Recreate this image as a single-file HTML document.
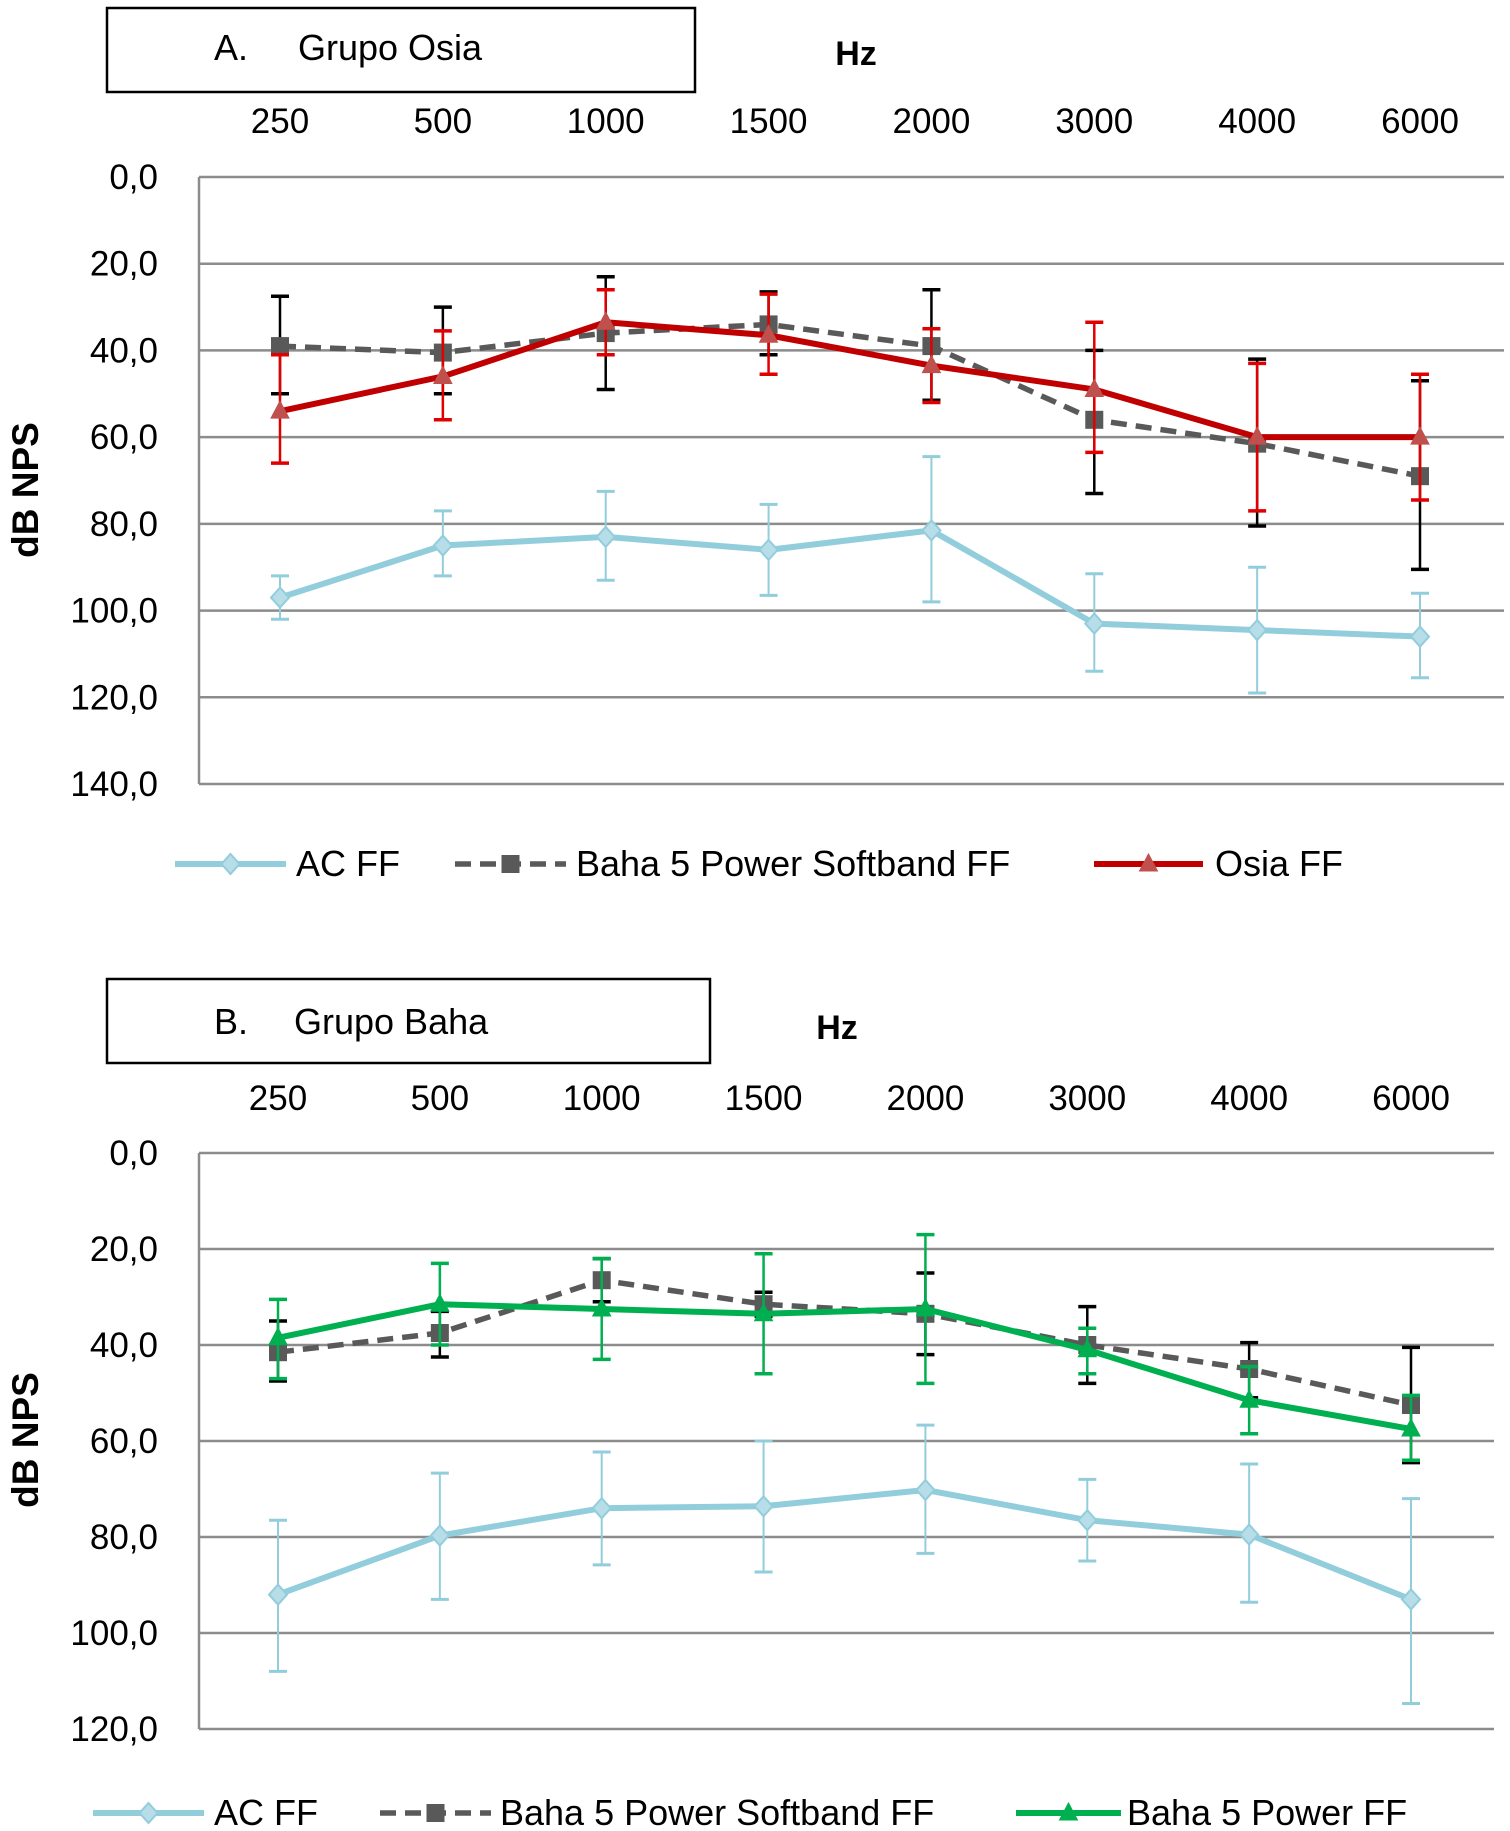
<!DOCTYPE html>
<html><head><meta charset="utf-8"><style>
html,body{margin:0;padding:0;background:#fff;}
svg{display:block;font-family:"Liberation Sans Narrow","Liberation Sans",sans-serif;}
</style></head><body>
<svg id="svg" width="1510" height="1831" viewBox="0 0 1510 1831"></svg>
<script>
const categories = ["250","500","1000","1500","2000","3000","4000","6000"];
// Panel A
const aTicks = [0,20,40,60,80,100,120,140];
const aAC = [97,85,83,86,81.5,103,104.5,106];
const aACLo = [92,77,72.5,75.5,64.5,91.5,90,96];
const aACHi = [102,92,93,96.5,98,114,119,115.5];
const aSB = [39,40.5,36,34,39,56,61.5,69];
const aSBLo = [27.5,30,23,26.5,26,40,42,47];
const aSBHi = [50,50,49,41,51.5,73,80.5,90.5];
const aOS = [54,46,33.5,36.5,43.5,49,60,60];
const aOSLo = [41,35.5,26,27,35,33.5,43,45.5];
const aOSHi = [66,56,41,45.5,52,63.5,77,74.5];
// Panel B
const bTicks = [0,20,40,60,80,100,120];
const bAC = [92,79.7,74,73.6,70.2,76.5,79.5,93];
const bACLo = [76.5,66.7,62.3,60,56.7,68,64.8,72];
const bACHi = [108,93,85.8,87.3,83.4,85,93.6,114.7];
const bSB = [41.5,37.5,26.5,31.5,33.5,40,45,52.5];
const bSBLo = [35,33,22,29,25,32,39.5,40.5];
const bSBHi = [47.5,42.5,31,34,42,48,51,64.5];
const bPW = [38.5,31.5,32.5,33.5,32.5,41,51.5,57.5];
const bPWLo = [30.5,23,22,21,17,36.5,44.5,50.5];
const bPWHi = [47,40,43,46,48,46,58.5,64];

const NS="http://www.w3.org/2000/svg";
const svg=document.getElementById('svg');
function mk(tag,attrs,parent){const e=document.createElementNS(NS,tag);for(const k in attrs)e.setAttribute(k,attrs[k]);(parent||svg).appendChild(e);return e;}

function panel(cfg){
  const g=mk('g',{});
  
  
  const xs=(i)=>cfg.x0+i*(cfg.x1-cfg.x0)/(categories.length-1);
  const ys=(v)=>cfg.yTop+(v/cfg.yMax)*(cfg.yBot-cfg.yTop);
  const box=mk('rect',{x:cfg.box[0],y:cfg.box[1],width:cfg.box[2],height:cfg.box[3],fill:'#fff',stroke:'#000','stroke-width':2.5},g);
  
  
  const t1=mk('text',{x:214,y:cfg.titleY,'font-size':36,fill:'#000'},g);t1.textContent=cfg.letter;
  
  
  const t2=mk('text',{x:cfg.titleX,y:cfg.titleY,'font-size':36,fill:'#000'},g);t2.textContent=cfg.title;
  
  
  const hz=mk('text',{x:cfg.hzX,y:cfg.titleY+5,'font-size':34,'font-weight':'bold','font-family':'Liberation Sans, sans-serif','text-anchor':'middle'},g);hz.textContent='Hz';
  
  
  categories.forEach((c,i)=>{const t=mk('text',{x:xs(i),y:cfg.xLabY,'font-size':35,'text-anchor':'middle'},g);t.textContent=c;
    
    });
  cfg.ticks.forEach(v=>{
    const l=mk('line',{x1:cfg.plotL,x2:cfg.plotR,y1:ys(v),y2:ys(v),stroke:'#8c8c8c','stroke-width':2.5},g);
    
    
    const t=mk('text',{x:158,y:ys(v)+12,'font-size':35,'text-anchor':'end'},g);t.textContent=v.toFixed(1).replace('.',',');
    
    
  });
  const ax=mk('line',{x1:cfg.plotL,x2:cfg.plotL,y1:cfg.yTop,y2:cfg.yBot,stroke:'#8c8c8c','stroke-width':2.5},g);
  
  
  const yt=mk('text',{x:0,y:0,'font-size':37,'font-weight':'bold','font-family':'Liberation Sans, sans-serif','text-anchor':'middle',transform:`translate(38,${cfg.yTitleY}) rotate(-90)`},g);yt.textContent='dB NPS';
  
  
  cfg.series.forEach(s=>{
    const sg=mk('g',{},g);
    
    
    s.vals.forEach((v,i)=>{
      const x=xs(i);
      mk('line',{x1:x,x2:x,y1:ys(s.lo[i]),y2:ys(s.hi[i]),stroke:s.errColor,'stroke-width':s.errW},sg);
      mk('line',{x1:x-9,x2:x+9,y1:ys(s.lo[i]),y2:ys(s.lo[i]),stroke:s.errColor,'stroke-width':s.errW+1},sg);
      mk('line',{x1:x-9,x2:x+9,y1:ys(s.hi[i]),y2:ys(s.hi[i]),stroke:s.errColor,'stroke-width':s.errW+1},sg);
    });
    const pts=s.vals.map((v,i)=>xs(i)+','+ys(v)).join(' ');
    const pl=mk('polyline',{points:pts,fill:'none',stroke:s.color,'stroke-width':s.w,'stroke-linejoin':'round','stroke-dasharray':s.dash||'none'},sg);
    
    
    s.vals.forEach((v,i)=>{const m=marker(s.marker,xs(i),ys(v),s.mColor,sg);
      
      });
  });
  cfg.legend.forEach(L=>{
    const lg=mk('g',{},g);
    
    
    mk('line',{x1:L.x1,x2:L.x2,y1:cfg.legY,y2:cfg.legY,stroke:L.color,'stroke-width':L.w,'stroke-dasharray':L.dash||'none'},lg);
    marker(L.marker,(L.x1+L.x2)/2,cfg.legY,L.mColor,lg);
    const t=mk('text',{x:L.tx,y:cfg.legY+12,'font-size':36},lg);t.textContent=L.text;
  });
}
function marker(type,x,y,c,p){
  if(type==='diamond')return mk('polygon',{points:`${x},${y-10} ${x+9},${y} ${x},${y+10} ${x-9},${y}`,fill:'#b7dde8',stroke:'#92cddc','stroke-width':2},p);
  if(type==='square')return mk('rect',{x:x-9,y:y-9,width:18,height:18,fill:c},p);
  return mk('polygon',{points:`${x},${y-10} ${x+9},${y+7} ${x-9},${y+7}`,fill:c,stroke:c,'stroke-width':1},p);
}
const AC={name:'series-ac-ff',color:'#92cddc',w:6,errColor:'#92cddc',errW:2,marker:'diamond',mColor:'#b7dde8'};
const SB={name:'series-baha-softband',color:'#595959',w:5.5,dash:'16,9',errColor:'#000',errW:2.5,marker:'square',mColor:'#595959'};
panel({name:'panel-a-grupo-osia',x0:280,x1:1420,yTop:177,yBot:784,yMax:140,plotL:199,plotR:1504,
  box:[107,8,588,84],letter:'A.',title:'Grupo Osia',titleX:298,titleY:60,hzX:856,xLabY:133,ticks:aTicks,yTitleY:490,legY:864,
  series:[
    Object.assign({},SB,{vals:aSB,lo:aSBLo,hi:aSBHi}),
    {name:'series-osia-ff',color:'#c00000',w:6,errColor:'#e00000',errW:2.5,marker:'tri',mColor:'#c0504d',vals:aOS,lo:aOSLo,hi:aOSHi},
    Object.assign({},AC,{vals:aAC,lo:aACLo,hi:aACHi})
  ],
  legend:[
    {x1:175,x2:286,color:'#92cddc',w:6,marker:'diamond',mColor:'#b7dde8',tx:296,text:'AC FF'},
    {x1:455,x2:566,color:'#595959',w:5.5,dash:'16,9',marker:'square',mColor:'#595959',tx:576,text:'Baha 5 Power Softband FF'},
    {x1:1094,x2:1203,color:'#c00000',w:6,marker:'tri',mColor:'#c0504d',tx:1215,text:'Osia FF'}
  ]});
panel({name:'panel-b-grupo-baha',x0:278,x1:1411,yTop:1153,yBot:1729,yMax:120,plotL:199,plotR:1494,
  box:[107,979,603,84],letter:'B.',title:'Grupo Baha',titleX:294,titleY:1034,hzX:837,xLabY:1110,ticks:bTicks,yTitleY:1440,legY:1813,
  series:[
    Object.assign({},AC,{vals:bAC,lo:bACLo,hi:bACHi}),
    Object.assign({},SB,{vals:bSB,lo:bSBLo,hi:bSBHi}),
    {name:'series-baha-power-ff',color:'#00b050',w:6,errColor:'#00b050',errW:2.5,marker:'tri',mColor:'#00b050',vals:bPW,lo:bPWLo,hi:bPWHi}
  ],
  legend:[
    {x1:93,x2:204,color:'#92cddc',w:6,marker:'diamond',mColor:'#b7dde8',tx:214,text:'AC  FF'},
    {x1:380,x2:491,color:'#595959',w:5.5,dash:'16,9',marker:'square',mColor:'#595959',tx:500,text:'Baha 5 Power Softband FF'},
    {x1:1016,x2:1121,color:'#00b050',w:6,marker:'tri',mColor:'#00b050',tx:1127,text:'Baha 5 Power FF'}
  ]});
</script>
</body></html>
